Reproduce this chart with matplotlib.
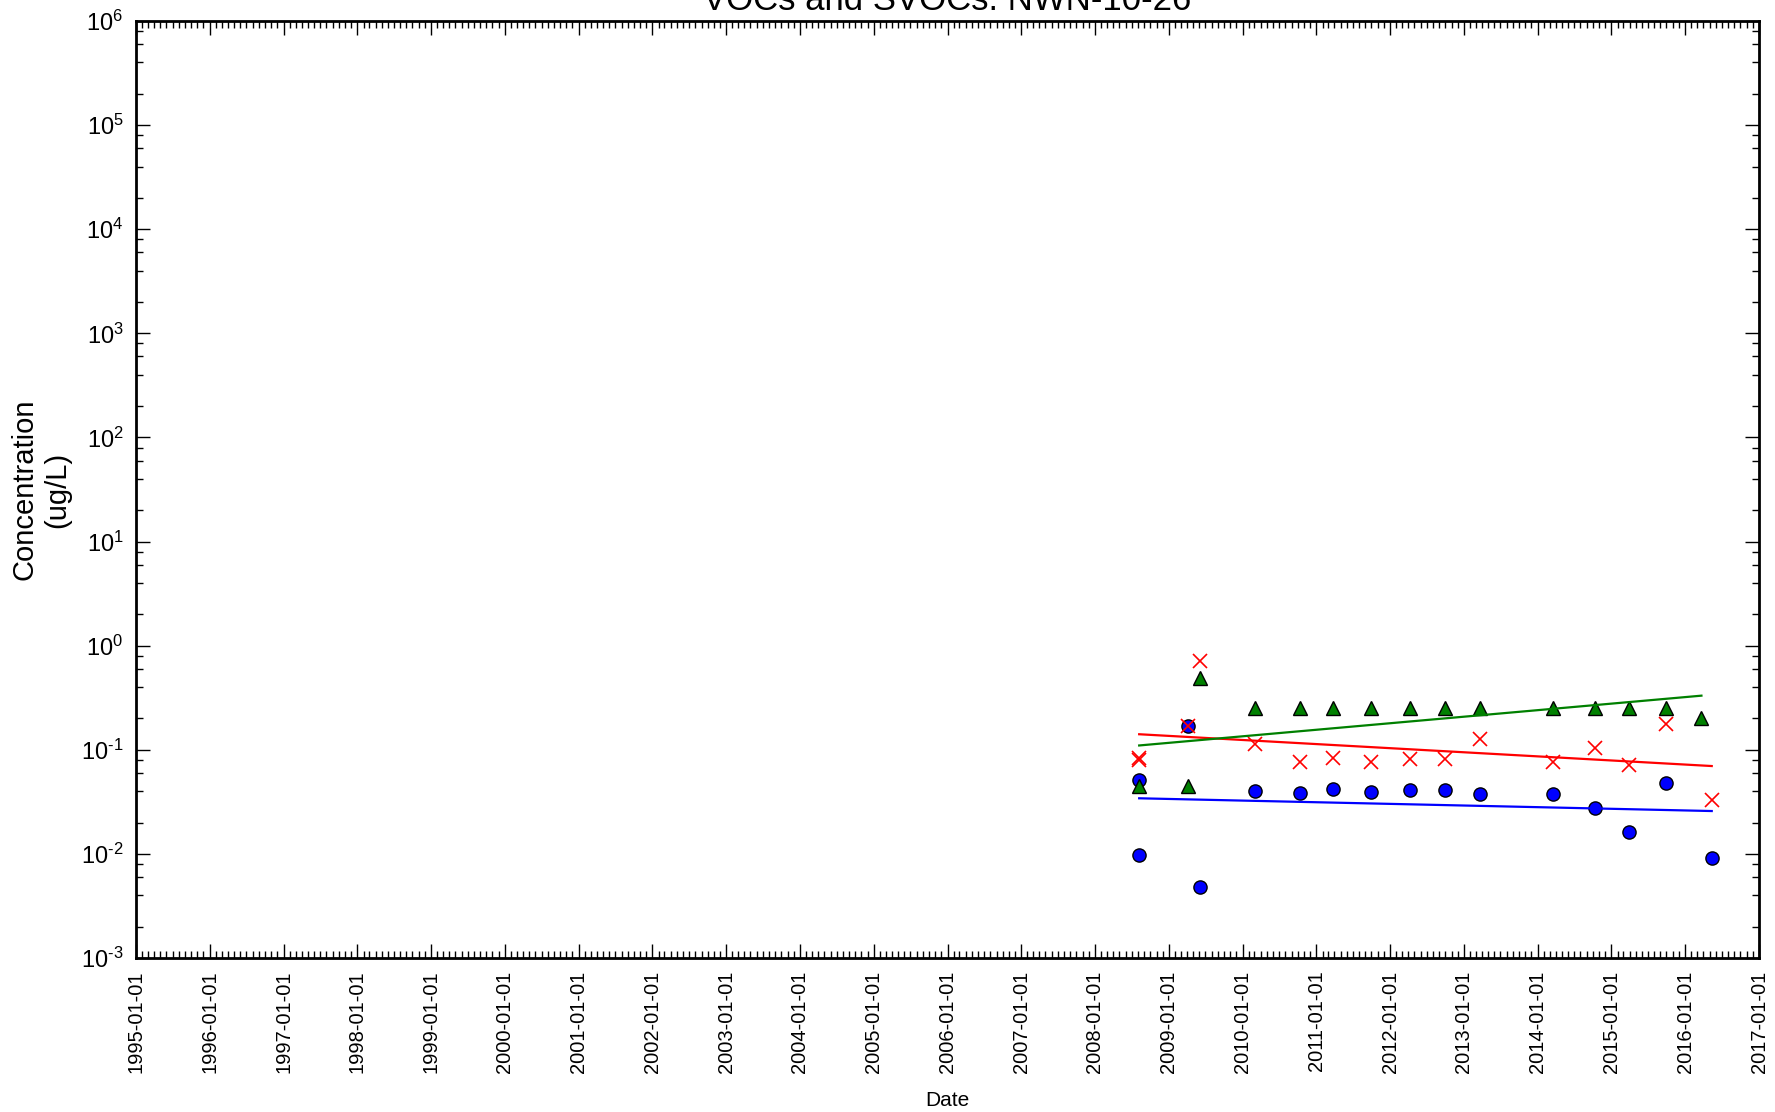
import datetime as dt
import matplotlib
matplotlib.use('Agg')
import matplotlib.pyplot as plt
import matplotlib.dates as mdates
import numpy as np
from matplotlib.ticker import LogLocator, NullFormatter, FuncFormatter

# --- data ---
sample_dates = ['2008-08-07', '2009-04-08', '2009-06-02', '2010-03-03', '2010-10-12',
                '2011-03-25', '2011-10-01', '2012-04-08', '2012-09-27', '2013-03-22',
                '2014-03-17', '2014-10-12', '2015-03-28', '2015-09-27', '2016-03-22',
                '2016-05-12']

blue_idx = [0, 0, 1, 2, 3, 4, 5, 6, 7, 8, 9, 10, 11, 12, 13, 15]
blue_vals = [0.051, 0.0097, 0.17, 0.0048, 0.040, 0.0387, 0.042, 0.039, 0.041, 0.041,
             0.038, 0.038, 0.0274, 0.0161, 0.0476, 0.0092]

red_idx = [0, 0, 1, 2, 3, 4, 5, 6, 7, 8, 9, 10, 11, 12, 13, 15]
red_vals = [0.079, 0.084, 0.17, 0.72, 0.114, 0.077, 0.083, 0.077, 0.081, 0.081,
            0.126, 0.076, 0.103, 0.071, 0.175, 0.033]

green_idx = [0, 1, 2, 3, 4, 5, 6, 7, 8, 9, 10, 11, 12, 13, 14]
green_vals = [0.045, 0.0447, 0.49, 0.25, 0.25, 0.25, 0.25, 0.25, 0.25, 0.25,
              0.25, 0.25, 0.25, 0.25, 0.2]

# trend lines: (start index, end index, start value, end value)
blue_trend = (0, 15, 0.0342, 0.0258)
red_trend = (0, 15, 0.141, 0.0698)
green_trend = (0, 14, 0.110, 0.331)

title = 'VOCs and SVOCs: NWN-10-26'

# --- style ---
plt.rcParams['font.family'] = ['Liberation Sans', 'DejaVu Sans']
plt.rcParams['mathtext.fontset'] = 'custom'
plt.rcParams['mathtext.rm'] = 'Liberation Sans'
plt.rcParams['mathtext.it'] = 'Liberation Sans:italic'
plt.rcParams['mathtext.bf'] = 'Liberation Sans:bold'
plt.rcParams['axes.unicode_minus'] = False

dates = [dt.datetime.strptime(s, '%Y-%m-%d') for s in sample_dates]


def pow10_label(v, pos):
    # plain hyphen in the exponent, like the original
    e = int(round(np.log10(v)))
    return r'$\mathregular{10^{\text{%s}}}$' % str(e)


fig = plt.figure(figsize=(17.75, 11.12), dpi=100)
ax = fig.add_axes([136 / 1775, 1 - 958 / 1112, (1759 - 136) / 1775, (958 - 21) / 1112])

ax.plot([dates[i] for i in blue_idx], blue_vals, 'o', color='#0000ff',
        markeredgecolor='black', markeredgewidth=1, markersize=9.5, linestyle='none')
ax.plot([dates[i] for i in red_idx], red_vals, 'x', color='#ff0000',
        markersize=9.5, markeredgewidth=1.2, linestyle='none')
ax.plot([dates[i] for i in green_idx], green_vals, '^', color='#008000',
        markeredgecolor='black', markeredgewidth=1, markersize=9.5, linestyle='none')

for trend, col in [(blue_trend, '#0000ff'), (red_trend, '#ff0000'), (green_trend, '#008000')]:
    i0, i1, v0, v1 = trend
    ax.plot([dates[i0], dates[i1]], [v0, v1], '-', color=col, linewidth=1.6)

ax.set_yscale('log')
ax.set_ylim(1e-3, 1e6)
ax.set_xlim(dt.datetime(1995, 1, 1), dt.datetime(2017, 1, 1))

ax.yaxis.set_major_locator(LogLocator(base=10, numticks=20))
ax.yaxis.set_minor_locator(LogLocator(base=10, subs=[2, 4, 6, 8], numticks=20))
ax.yaxis.set_major_formatter(FuncFormatter(pow10_label))
ax.yaxis.set_minor_formatter(NullFormatter())

ax.xaxis.set_major_locator(mdates.YearLocator())
ax.xaxis.set_minor_locator(mdates.MonthLocator())
ax.xaxis.set_major_formatter(mdates.DateFormatter('%Y-%m-%d'))
for lbl in ax.get_xticklabels():
    lbl.set_rotation(90)

ax.tick_params(which='both', direction='in', top=True, right=True, width=1)
ax.tick_params(which='major', length=10, pad=9)
ax.tick_params(which='minor', length=5)
ax.tick_params(axis='x', which='major', labelsize=14.5)
ax.tick_params(axis='y', which='major', labelsize=17)
for sp in ax.spines.values():
    sp.set_linewidth(2)

ax.set_title(title, fontsize=25, pad=8)
ax.set_ylabel('Concentration\n(ug/L)', fontsize=21)
ax.yaxis.set_label_coords(-0.040, 0.5)
ax.set_xlabel('Date', fontsize=15, labelpad=13)

fig.savefig('out.png', dpi=100)
